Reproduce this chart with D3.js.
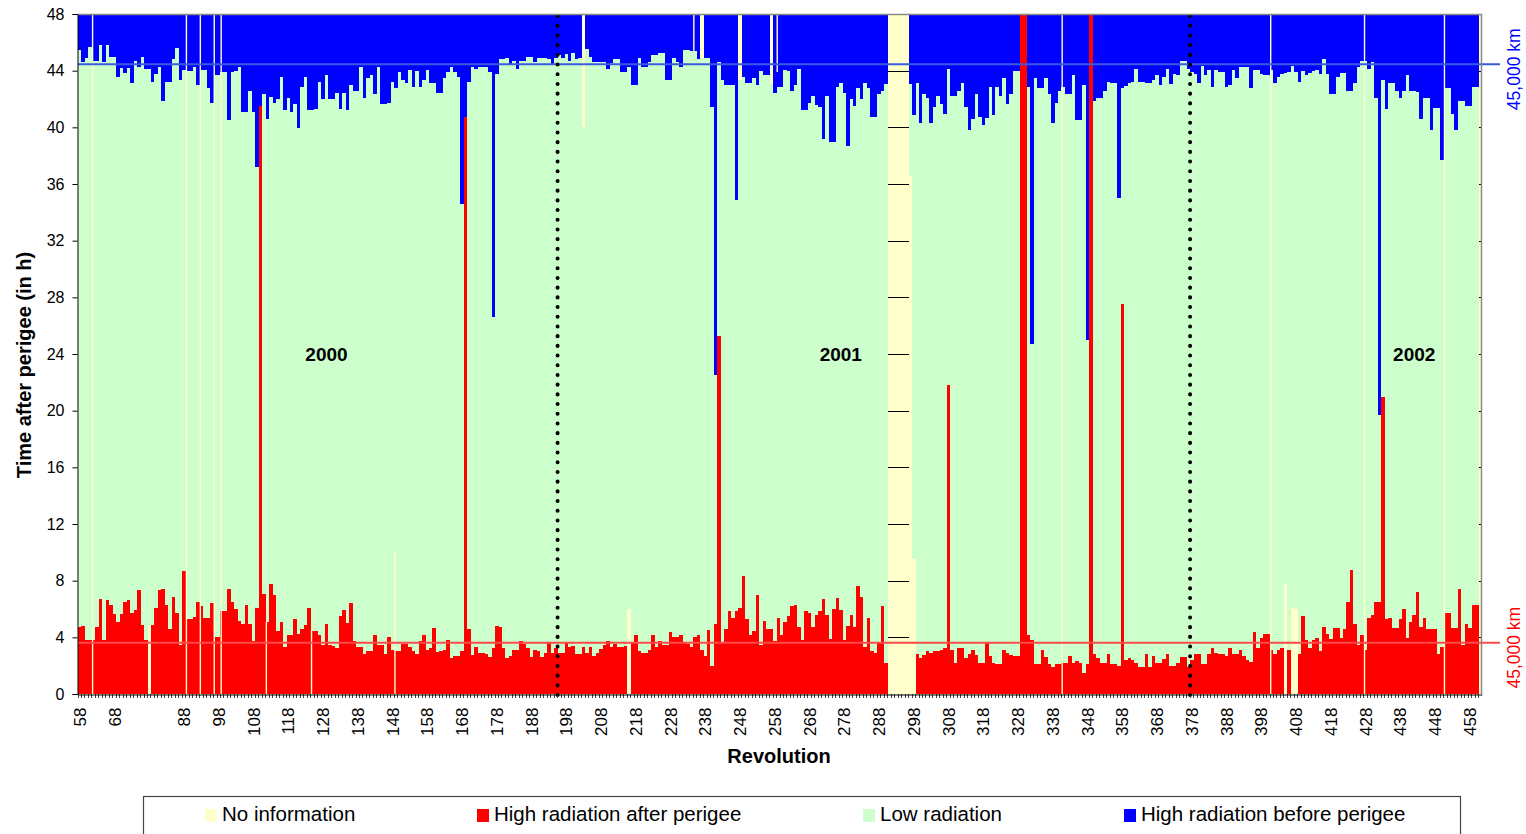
<!DOCTYPE html>
<html>
<head>
<meta charset="utf-8">
<script src="https://cdn.jsdelivr.net/npm/d3@7"></script>
<style>
  body { margin: 0; background: #fff; }
  text { font-family: "Liberation Sans", Arial, sans-serif; }
</style>
</head>
<body>
<svg id="chart" width="1526" height="834"></svg>
<script>
// revolutions on the category axis (last slot is empty)
const firstRev = 58;
const lastRev = 461;

// top of the red part, hours after perigee (null = no bar at all)
const afterPerigee = [
  4.7,4.8,3.8,3.8,3.8,4.75,6.7,3.8,6.65,6.3,
  5.65,5.1,5.65,6.5,6.65,5.75,5.9,7.35,4.9,3.8,
  0,4.9,6.1,7.35,7.4,6.3,4.6,6.85,5.75,3.45,
  8.7,5.3,5.3,5.45,6.5,6.2,5.35,5.35,6.4,4.0,
  4.0,5.85,5.85,7.4,6.5,6.0,5.15,4.95,6.3,4.95,
  3.75,6.05,41.5,7.05,5.1,7.75,7.0,4.45,5.1,3.3,
  4.15,4.15,5.3,4.25,4.6,4.85,6.05,4.45,4.45,4.15,
  3.45,4.95,3.45,3.4,3.25,5.5,5.9,5.0,6.4,3.75,
  3.3,3.3,2.8,3.05,3.05,4.15,3.45,3.45,2.8,4.0,
  3.1,3.05,3.05,3.55,3.55,3.3,3.05,2.8,3.75,4.15,
  3.1,3.25,4.65,2.95,3.05,3.1,3.8,2.55,2.7,2.7,
  3.05,40.7,4.6,2.75,3.3,2.9,2.9,2.85,2.6,3.25,
  4.8,4.75,3.25,2.55,2.7,3.1,3.1,3.75,3.55,3.25,
  2.6,3.1,3.05,2.6,2.9,3.6,2.9,3.25,2.9,2.9,
  3.6,3.3,3.4,2.8,2.8,3.3,2.9,3.3,2.7,2.9,
  3.2,3.45,3.75,3.3,3.55,3.3,3.3,3.4,0,3.65,
  4.15,3.05,2.9,2.9,3.1,4.15,3.3,3.75,3.45,3.45,
  4.4,4.0,4.0,4.2,3.6,3.55,3.35,4.0,4.15,3.1,
  2.7,4.5,1.95,4.95,25.3,3.65,4.6,5.85,5.35,5.85,
  6.05,8.35,5.3,4.15,4.45,7.0,3.45,5.15,4.6,4.6,
  3.75,5.35,4.15,5.1,5.5,6.2,6.3,4.75,3.8,5.85,
  5.7,4.75,5.6,5.85,6.7,5.6,3.9,6.0,6.8,5.9,
  3.8,4.8,5.6,4.75,7.6,6.85,3.3,5.35,3.05,2.9,
  3.65,6.2,2.2,null,null,null,null,null,null,0,
  0,2.8,2.55,2.75,3.05,2.9,3.05,3.05,3.1,3.25,
  21.8,3.1,2.2,3.25,3.25,2.55,2.8,3.1,2.75,2.2,
  2.2,3.6,2.7,2.2,2.1,2.1,3.1,2.9,2.75,2.7,
  2.7,48,48,4.15,3.8,2.1,2.1,3.1,2.6,2.1,
  1.9,2.1,2.1,2.2,2.2,2.7,2.2,2.35,2.2,1.5,
  2.1,48,2.8,2.55,2.2,2.2,2.8,2.1,2.1,1.95,
  27.5,2.4,2.55,2.4,2.2,1.9,1.9,2.8,1.9,2.7,
  2.2,2.2,2.45,2.8,1.95,1.95,2.2,2.6,2.6,1.9,
  2.4,2.8,2.8,2.1,2.1,2.8,3.25,2.9,2.8,2.8,
  2.7,3.25,2.8,2.8,3.1,2.7,2.4,2.25,4.4,3.25,
  3.95,4.25,4.25,3.1,2.8,3.1,3.25,0,3.1,0,
  0,2.8,5.5,3.8,3.25,3.8,3.95,3.05,4.75,4.25,
  3.9,4.65,4.65,3.95,4.6,6.5,8.75,4.95,3.45,4.15,
  3.1,5.35,5.6,6.5,6.5,20.95,5.3,5.35,4.65,4.65,
  5.3,6.0,3.95,5.1,5.6,7.2,4.75,5.35,4.6,4.6,
  4.6,2.8,3.3,5.7,5.7,4.65,4.65,7.4,3.45,4.95,
  4.65,6.3,6.3,null
];

// bottom of the blue part, hours after perigee (null = no blue)
const beforePerigee = [
  45.45,44.6,44.9,45.7,44.7,44.7,45.8,44.6,45.8,45.0,
  45.0,43.55,44.2,43.85,44.2,43.1,44.7,44.25,45.0,44.1,
  44.1,43.2,43.75,44.25,41.85,43.2,43.2,44.8,45.6,43.35,
  44.05,44.0,44.0,44.25,43.0,44.05,44.05,42.8,41.7,43.7,
  43.7,43.9,43.9,40.5,43.9,44.0,44.25,41.1,41.1,42.55,
  41.1,37.2,41.5,42.35,40.6,42.15,41.7,42.0,43.55,41.2,
  42.05,41.1,41.65,39.95,42.85,43.55,41.2,41.2,41.3,43.2,
  42.0,43.7,42.0,42.0,42.4,41.3,42.4,41.2,43.0,42.6,
  42.6,44.25,42.05,43.5,43.7,42.35,44.25,41.65,41.65,41.7,
  43.2,42.8,43.9,43.35,43.1,44.05,42.85,44.0,42.85,43.35,
  44.05,43.1,43.1,42.4,42.4,43.5,43.9,44.25,43.9,43.55,
  34.6,40.7,43.2,44.25,44.1,44.25,44.25,44.25,43.9,26.6,
  43.75,44.8,44.8,44.9,44.45,44.7,44.1,44.7,44.7,45.0,
  45.0,44.6,44.9,44.9,44.9,44.8,44.45,44.9,45.1,44.9,
  45.2,44.7,45.25,44.8,44.9,null,45.5,45.0,44.6,44.6,
  44.6,44.6,44.1,44.55,44.8,44.8,43.9,43.9,44.25,43.0,
  43.0,44.9,44.25,44.25,44.6,45.1,45.1,45.25,45.25,43.35,
  43.35,44.9,44.6,44.25,45.45,45.45,45.4,45.4,44.8,null,
  44.9,44.9,41.45,22.5,44.6,43.35,43.0,43.0,43.0,34.9,
  null,43.55,43.1,43.1,43.5,43.0,44.0,43.7,43.7,null,
  42.4,42.85,42.85,44.05,44.0,42.6,43.0,44.1,41.2,41.2,
  41.7,42.2,41.6,41.45,39.2,42.2,38.95,38.95,42.85,43.1,
  42.4,38.7,42.0,41.5,42.8,42.0,43.1,42.8,40.7,40.7,
  42.35,42.6,43.05,null,null,null,null,null,null,43.05,
  40.85,43.1,40.3,42.35,42.05,40.3,41.45,42.2,41.65,40.95,
  44.1,42.2,42.2,42.6,43.1,41.45,39.8,40.6,42.35,40.7,
  40.15,40.65,42.85,40.85,42.85,42.2,43.5,41.65,42.35,44.0,
  44.0,null,null,42.85,24.7,43.5,42.8,42.8,43.5,42.35,
  40.3,41.7,42.6,42.85,42.35,42.35,43.7,40.5,40.5,43.0,
  25.0,null,41.85,42.05,42.05,42.55,43.2,43.1,43.1,35.0,
  42.8,42.9,43.1,43.2,44.1,43.2,43.2,43.1,43.1,43.35,
  43.7,43.0,43.55,44.1,43.05,43.75,43.7,44.7,44.7,44.1,
  43.9,43.75,43.1,44.3,43.7,44.05,42.85,44.05,43.9,43.9,
  42.85,43.0,44.05,43.5,44.25,44.25,44.25,42.8,44.05,44.05,
  43.75,43.7,43.7,44.05,43.1,43.55,43.75,43.85,43.9,44.3,
  43.9,43.2,44.0,43.7,43.85,44.0,44.05,43.75,44.8,43.75,
  42.35,42.35,43.55,43.85,43.85,42.55,42.55,43.1,44.25,44.7,
  44.7,44.1,44.6,42.05,19.7,43.35,41.3,43.1,43.1,42.6,
  42.05,42.6,43.7,42.6,42.55,42.5,40.6,42.05,42.05,39.8,
  41.4,41.35,37.7,42.8,42.8,40.95,39.8,41.85,41.85,41.5,
  41.5,42.85,42.85,null
];

// no information: [revolution, from h, to h]
const noInfoBlocks = [
  [78,0,4.9],[203,40,48],[216,0,6.0],[237,44.9,48],[248,43.35,48],
  [257,43.05,48],[297,0,36.6],[298,0,9.5],[405,0,7.75],[407,0,6.05],[408,0,6.0]
];
// thin no-information slivers: [revolution, from h, to h]
const noInfoSlivers = [
  [62,0,48],[89,0,48],[93,0,48],[97,0,48],[99,0,48],[112,0,5.1],[125,0,4.5],
  [149,0,10],[235,45.4,48],[259,43.9,48],[341,0,48],[401,0,48],[428,0,48],[451,0,48]
];

const hourTicks = [0,4,8,12,16,20,24,28,32,36,40,44,48];
const revTicks = [58,68,88,98,108,118,128,138,148,158,168,178,188,198,208,218,228,238,248,258,
  268,278,288,298,308,318,328,338,348,358,368,378,388,398,408,418,428,438,448,458];

const yearNames = ["2000","2001","2002"];
const yearRevs = [129,277,442];
const yearStartRevs = [196,378];

// 45,000 km crossing times (h)
const crossBefore = 44.45;
const crossAfter = 3.62;

const legendNames = ["No information","High radiation after perigee","Low radiation","High radiation before perigee"];
const legendColors = ["#FFFFCC","#FF0000","#CCFFCC","#0000FF"];
const legendX = [205, 477, 863, 1124];

// ---------------------------------------------------------------
const svg = d3.select("#chart");
const plotLeft = 78, plotRight = 1482, plotTop = 14, plotBottom = 694;

const revs = d3.range(firstRev, lastRev + 1);
const x = d3.scaleBand().domain(revs).range([plotLeft, plotRight]).padding(0);
const y = d3.scaleLinear().domain([0, 48]).range([plotBottom, plotTop]);
const bw = x.bandwidth();

// plot background shows through where there is no information
svg.append("rect")
  .attr("x", plotLeft).attr("y", plotTop)
  .attr("width", plotRight - plotLeft).attr("height", plotBottom - plotTop)
  .attr("fill", "#FFFFCC");

// gridlines (mostly hidden behind the bars)
svg.append("g").selectAll("line")
  .data(hourTicks.slice(1, -1))
  .join("line")
  .attr("x1", plotLeft).attr("x2", plotRight)
  .attr("y1", d => Math.round(y(d)) + 0.5).attr("y2", d => Math.round(y(d)) + 0.5)
  .attr("stroke", "#000").attr("stroke-width", 1);

const bars = revs.map((rev, i) => ({ rev, after: afterPerigee[i], before: beforePerigee[i] }))
  .filter(d => d.after !== null && d.after !== undefined);

const gBars = svg.append("g").attr("shape-rendering", "crispEdges");

gBars.selectAll("rect.low")
  .data(bars)
  .join("rect")
  .attr("class", "low")
  .attr("x", d => x(d.rev)).attr("width", bw)
  .attr("y", y(48)).attr("height", y(0) - y(48))
  .attr("fill", "#CCFFCC");

gBars.selectAll("rect.after")
  .data(bars.filter(d => d.after > 0))
  .join("rect")
  .attr("class", "after")
  .attr("x", d => x(d.rev)).attr("width", bw)
  .attr("y", d => y(d.after)).attr("height", d => y(0) - y(d.after))
  .attr("fill", "#FF0000");

gBars.selectAll("rect.before")
  .data(bars.filter(d => d.before !== null))
  .join("rect")
  .attr("class", "before")
  .attr("x", d => x(d.rev)).attr("width", bw)
  .attr("y", y(48)).attr("height", d => y(d.before) - y(48))
  .attr("fill", "#0000FF");

gBars.selectAll("rect.noinfo")
  .data(noInfoBlocks)
  .join("rect")
  .attr("class", "noinfo")
  .attr("x", d => x(d[0])).attr("width", bw)
  .attr("y", d => y(d[2])).attr("height", d => y(d[1]) - y(d[2]))
  .attr("fill", "#FFFFCC");

svg.append("g").selectAll("rect")
  .data(noInfoSlivers)
  .join("rect")
  .attr("x", d => x(d[0])).attr("width", bw * 0.4)
  .attr("y", d => y(d[2])).attr("height", d => y(d[1]) - y(d[2]))
  .attr("fill", "#FFFFCC");

// 45,000 km reference lines
const refs = [
  { h: crossBefore, color: "#3a5be0" },
  { h: crossAfter, color: "#ff4a4a" }
];
svg.append("g").selectAll("line")
  .data(refs)
  .join("line")
  .attr("x1", plotLeft).attr("x2", 1500)
  .attr("y1", d => y(d.h)).attr("y2", d => y(d.h))
  .attr("stroke", d => d.color).attr("stroke-width", 2);

svg.append("g").selectAll("text")
  .data([{ h: crossBefore, color: "#0000FF" }, { h: crossAfter, color: "#FF0000" }])
  .join("text")
  .attr("transform", d => `translate(1520,${y(d.h) + 5}) rotate(-90)`)
  .attr("text-anchor", "middle")
  .attr("font-size", 17.5)
  .attr("fill", d => d.color)
  .text("45,000 km");

// year separators
svg.append("g").selectAll("line")
  .data(yearStartRevs)
  .join("line")
  .attr("x1", d => x(d)).attr("x2", d => x(d))
  .attr("y1", plotTop + 2).attr("y2", plotBottom + 6)
  .attr("stroke", "#000").attr("stroke-width", 4)
  .attr("stroke-linecap", "round")
  .attr("stroke-dasharray", "0.1 9.6");

svg.append("g").selectAll("text")
  .data(yearNames)
  .join("text")
  .attr("x", (d, i) => x(yearRevs[i]) + bw / 2)
  .attr("y", y(24) + 7)
  .attr("text-anchor", "middle")
  .attr("font-size", 19).attr("font-weight", "bold")
  .text(d => d);

// frame: grey top and right
svg.append("path")
  .attr("d", `M${plotLeft},${plotTop + 0.5}H${plotRight - 0.5}V${plotBottom}`)
  .attr("fill", "none").attr("stroke", "#888").attr("stroke-width", 1.5);

// y axis
const yAxis = svg.append("g")
  .attr("transform", `translate(${plotLeft - 0.5},0)`)
  .call(d3.axisLeft(y).tickValues(hourTicks).tickSize(5).tickPadding(8));
yAxis.select(".domain").attr("stroke", "#000");
yAxis.selectAll(".tick line").attr("stroke", "#000");
yAxis.selectAll("text").attr("font-size", 16).attr("fill", "#000")
  .style("font-family", '"Liberation Sans", Arial, sans-serif');

// x axis: one small tick per revolution, labels every tenth
svg.append("g").attr("shape-rendering", "crispEdges").selectAll("line")
  .data(revs)
  .join("line")
  .attr("x1", d => x(d)).attr("x2", d => x(d))
  .attr("y1", plotBottom).attr("y2", plotBottom + 4)
  .attr("stroke", "#444").attr("stroke-width", 1);

const xAxis = svg.append("g")
  .attr("transform", `translate(0,${plotBottom + 0.5})`)
  .call(d3.axisBottom(x).tickValues(revTicks).tickSize(0));
xAxis.select(".domain").attr("stroke", "#000");
xAxis.selectAll("text")
  .attr("transform", "rotate(-90)")
  .attr("x", -13).attr("y", 0).attr("dy", "0.36em")
  .attr("text-anchor", "end")
  .attr("font-size", 17).attr("fill", "#000")
  .style("font-family", '"Liberation Sans", Arial, sans-serif');

// axis titles
svg.append("text")
  .attr("transform", "translate(31,365) rotate(-90)")
  .attr("text-anchor", "middle")
  .attr("font-size", 20).attr("font-weight", "bold")
  .text("Time after perigee (in h)");

svg.append("text")
  .attr("x", 779).attr("y", 763)
  .attr("text-anchor", "middle")
  .attr("font-size", 20).attr("font-weight", "bold")
  .text("Revolution");

// legend
svg.append("rect")
  .attr("x", 143.5).attr("y", 796.5)
  .attr("width", 1317).attr("height", 60)
  .attr("fill", "#fff").attr("stroke", "#444").attr("stroke-width", 1.2);

const legend = svg.append("g").selectAll("g")
  .data(legendNames)
  .join("g")
  .attr("transform", (d, i) => `translate(${legendX[i]},0)`);
legend.append("rect")
  .attr("x", 0).attr("y", 809).attr("width", 12).attr("height", 13)
  .attr("fill", (d, i) => legendColors[i]);
legend.append("text")
  .attr("x", 17).attr("y", 821)
  .attr("font-size", 20.5)
  .text(d => d);
</script>
</body>
</html>
